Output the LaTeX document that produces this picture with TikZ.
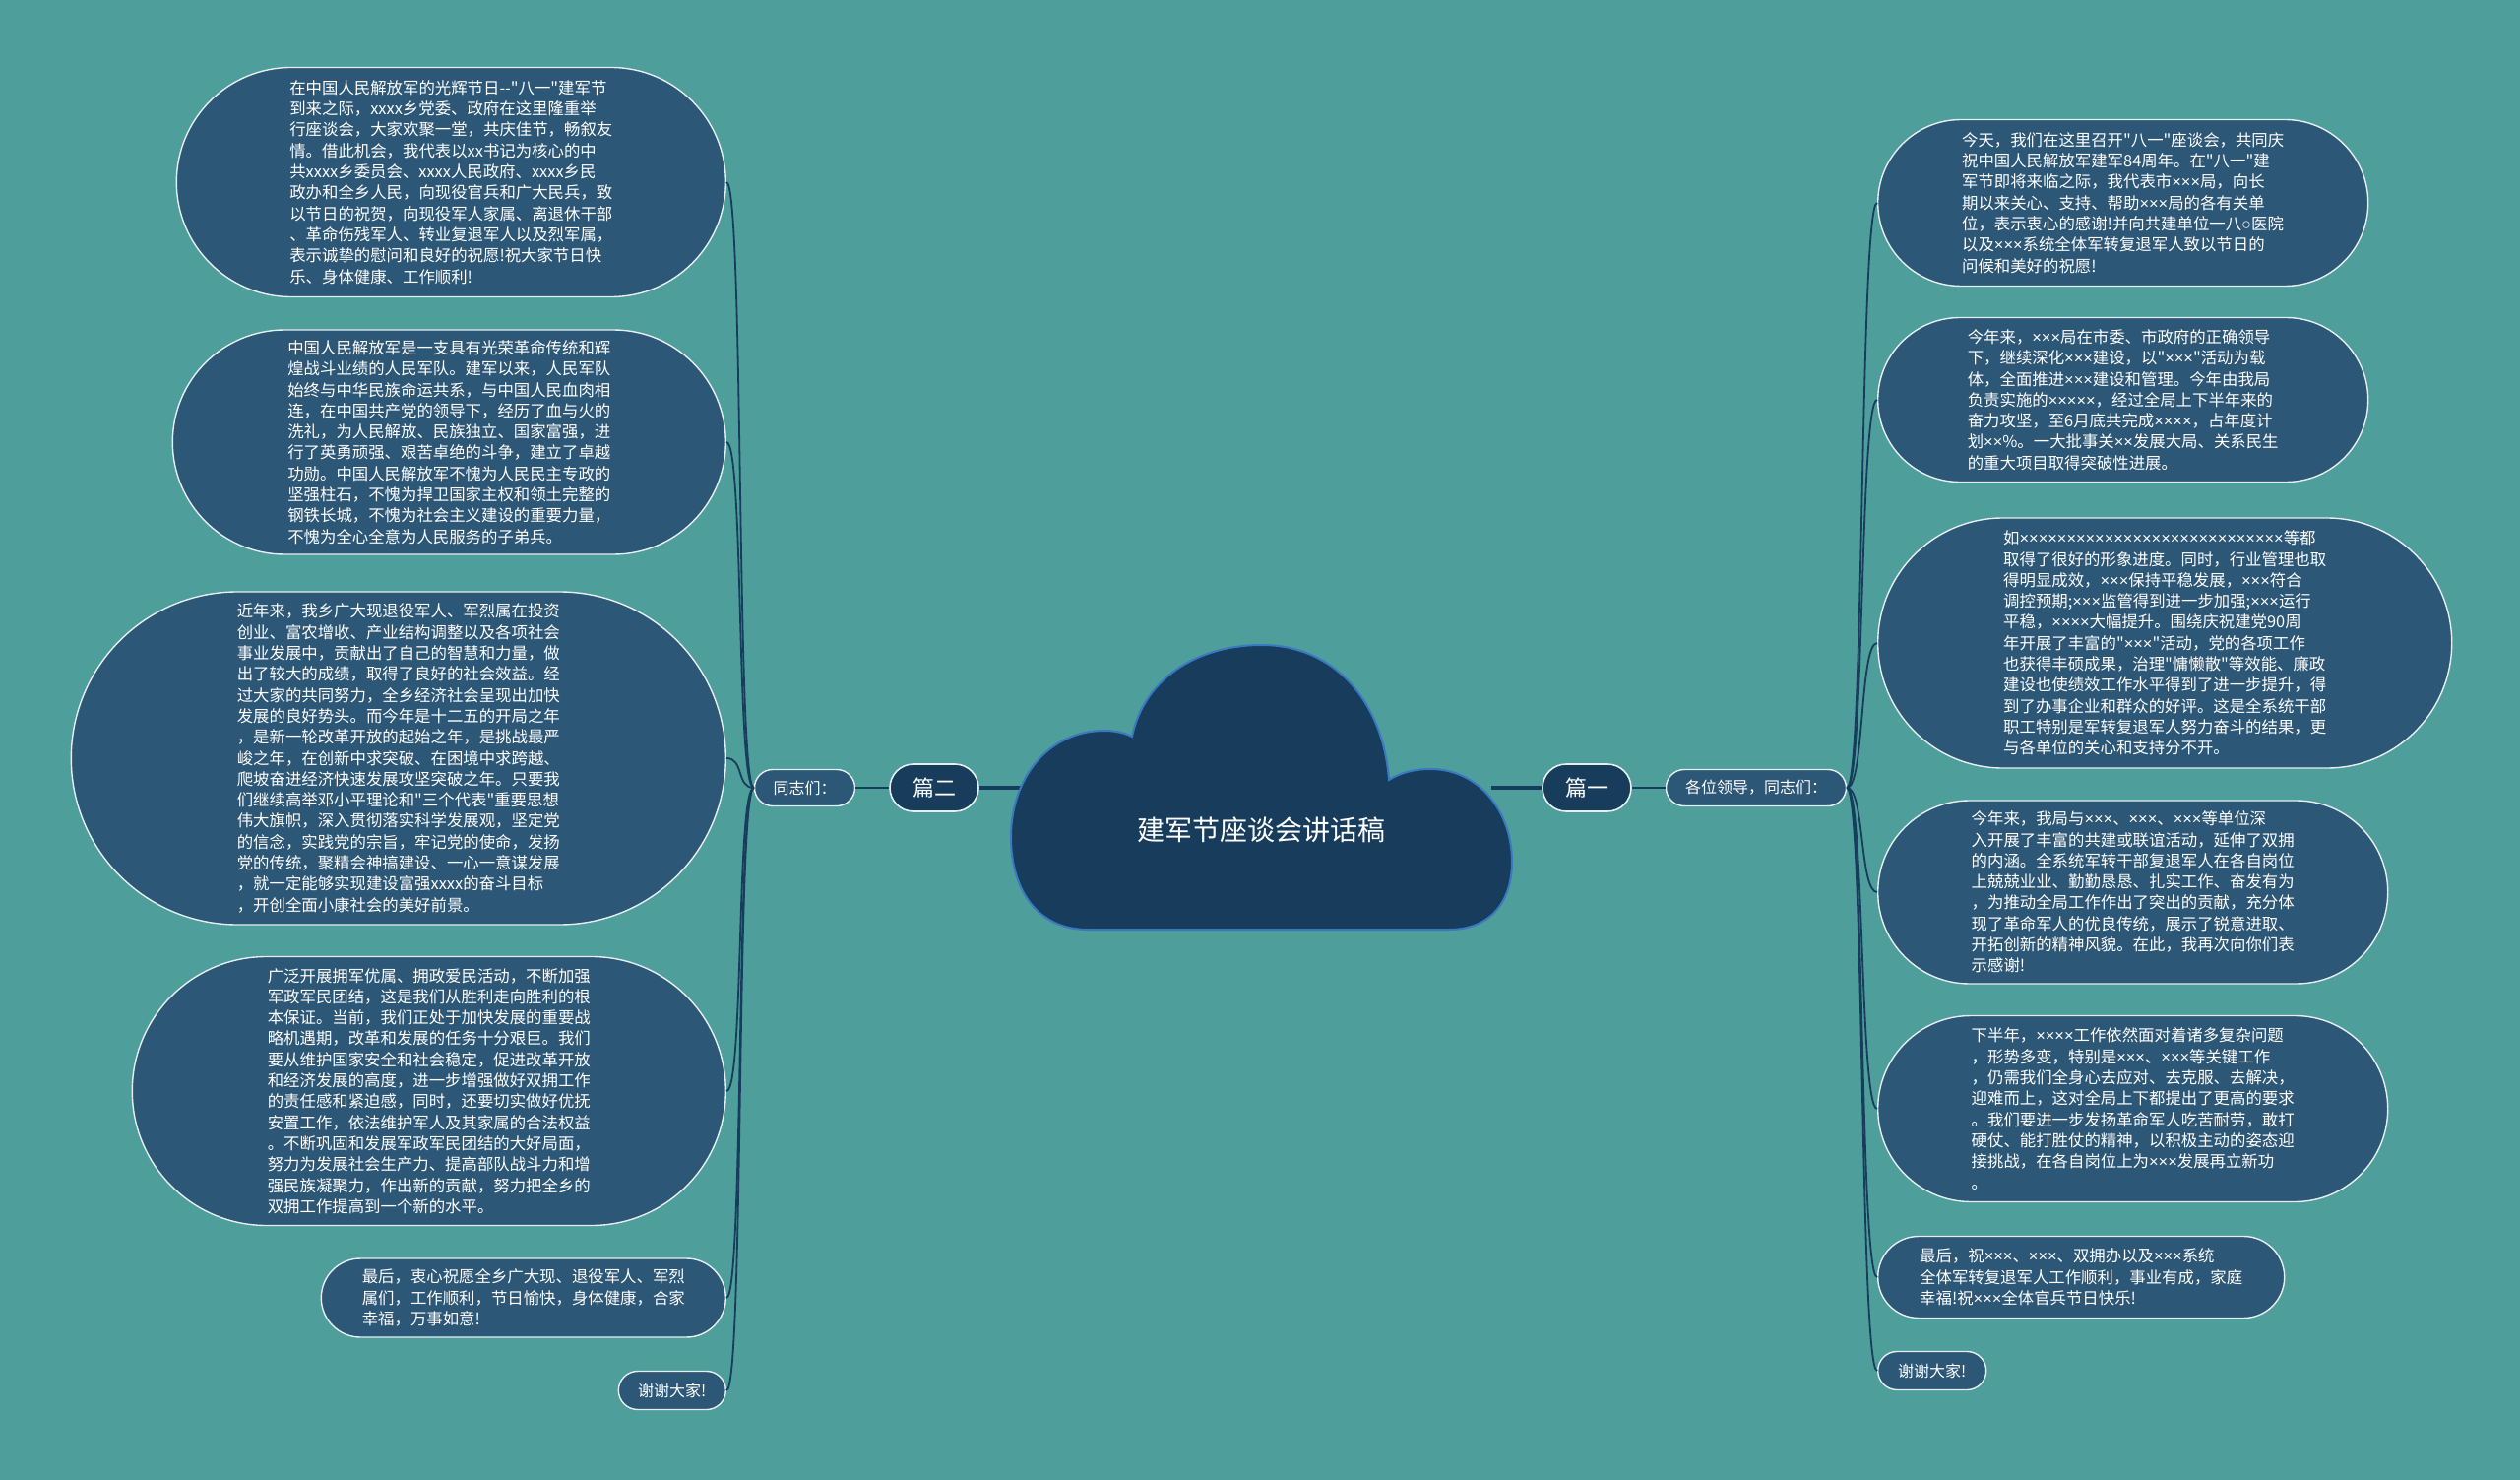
\documentclass[tikz,border=0pt]{standalone}
\usepackage{fontspec}
\setmainfont{Noto Sans CJK SC}[Ligatures=TeXOff]
\newfontfamily\latinf{Liberation Sans}
\begingroup\lccode`\~="D7 \lowercase{\endgroup\def~}{{\latinf\char"D7}}
\catcode"D7=13
\usetikzlibrary{positioning}
\definecolor{bgteal}{HTML}{4E9E9B}
\definecolor{bubblecol}{HTML}{2D5776}
\definecolor{navy}{HTML}{173C5C}
\definecolor{cloudedge}{HTML}{3A78C2}
\definecolor{rim}{HTML}{E6EEF2}

\begin{document}
\begin{tikzpicture}[x=1pt,y=-1pt,
  pill/.style 2 args={rectangle,minimum width=#1pt,minimum height=#2pt,rounded corners=#2*0.5pt},
  bubble/.style={draw=rim,line width=1.4pt,fill=bubblecol,text=white,
    align=left,inner sep=0pt,font=\fontsize{16.4}{21.3}\selectfont},
  lead/.style={bubble,font=\fontsize{16}{18}\selectfont},
  part/.style={draw=rim,line width=1.6pt,fill=navy,text=white,pill={90}{48},
    inner sep=0pt,font=\fontsize{22}{24}\selectfont},
  link/.style={draw=navy,line width=1.8pt},
  trunk/.style={draw=navy,line width=4pt}]
\fill[bgteal] (0,0) rectangle (2560,1503);
\useasboundingbox (0,0) rectangle (2560,1503);

\node[part] (p1) at (1612,800) {篇一};
\node[part] (p2) at (949,800) {篇二};
\node[lead,pill={183}{37},right=34pt of p1] (lead1) {各位领导，同志们：};
\node[lead,pill={102}{37},left=34pt of p2] (lead2) {同志们：};

\node[bubble,pill={558}{233},anchor=east] (l1) at (738,185) {在中国人民解放军的光辉节日-{}-"八一"建军节\\到来之际，xxxx乡党委、政府在这里隆重举\\行座谈会，大家欢聚一堂，共庆佳节，畅叙友\\情。借此机会，我代表以xx书记为核心的中\\共xxxx乡委员会、xxxx人民政府、xxxx乡民\\政办和全乡人民，向现役官兵和广大民兵，致\\以节日的祝贺，向现役军人家属、离退休干部\\、革命伤残军人、转业复退军人以及烈军属，\\表示诚挚的慰问和良好的祝愿!祝大家节日快\\乐、身体健康、工作顺利!};
\node[bubble,pill={562}{228},anchor=east] (l2) at (738,449) {中国人民解放军是一支具有光荣革命传统和辉\\煌战斗业绩的人民军队。建军以来，人民军队\\始终与中华民族命运共系，与中国人民血肉相\\连，在中国共产党的领导下，经历了血与火的\\洗礼，为人民解放、民族独立、国家富强，进\\行了英勇顽强、艰苦卓绝的斗争，建立了卓越\\功勋。中国人民解放军不愧为人民民主专政的\\坚强柱石，不愧为捍卫国家主权和领土完整的\\钢铁长城，不愧为社会主义建设的重要力量，\\不愧为全心全意为人民服务的子弟兵。};
\node[bubble,pill={665}{338},anchor=east] (l3) at (738,770) {近年来，我乡广大现退役军人、军烈属在投资\\创业、富农增收、产业结构调整以及各项社会\\事业发展中，贡献出了自己的智慧和力量，做\\出了较大的成绩，取得了良好的社会效益。经\\过大家的共同努力，全乡经济社会呈现出加快\\发展的良好势头。而今年是十二五的开局之年\\，是新一轮改革开放的起始之年，是挑战最严\\峻之年，在创新中求突破、在困境中求跨越、\\爬坡奋进经济快速发展攻坚突破之年。只要我\\们继续高举邓小平理论和"三个代表"重要思想\\伟大旗帜，深入贯彻落实科学发展观，坚定党\\的信念，实践党的宗旨，牢记党的使命，发扬\\党的传统，聚精会神搞建设、一心一意谋发展\\，就一定能够实现建设富强xxxx的奋斗目标\\，开创全面小康社会的美好前景。};
\node[bubble,pill={603}{273},anchor=east] (l4) at (738,1108) {广泛开展拥军优属、拥政爱民活动，不断加强\\军政军民团结，这是我们从胜利走向胜利的根\\本保证。当前，我们正处于加快发展的重要战\\略机遇期，改革和发展的任务十分艰巨。我们\\要从维护国家安全和社会稳定，促进改革开放\\和经济发展的高度，进一步增强做好双拥工作\\的责任感和紧迫感，同时，还要切实做好优抚\\安置工作，依法维护军人及其家属的合法权益\\。不断巩固和发展军政军民团结的大好局面，\\努力为发展社会生产力、提高部队战斗力和增\\强民族凝聚力，作出新的贡献，努力把全乡的\\双拥工作提高到一个新的水平。};
\node[bubble,pill={411}{80},anchor=east] (l5) at (738,1318) {最后，衷心祝愿全乡广大现、退役军人、军烈\\属们，工作顺利，节日愉快，身体健康，合家\\幸福，万事如意!};
\node[lead,pill={109}{39},anchor=east] (l6) at (738,1412) {谢谢大家!};

\node[bubble,pill={498}{169},anchor=west] (r1) at (1907,206) {今天，我们在这里召开"八一"座谈会，共同庆\\祝中国人民解放军建军84周年。在"八一"建\\军节即将来临之际，我代表市×××局，向长\\期以来关心、支持、帮助×××局的各有关单\\位，表示衷心的感谢!并向共建单位一八{\latinf ○}医院\\以及×××系统全体军转复退军人致以节日的\\问候和美好的祝愿!};
\node[bubble,pill={498}{167},anchor=west] (r2) at (1907,406) {今年来，×××局在市委、市政府的正确领导\\下，继续深化×××建设，以"×××"活动为载\\体，全面推进×××建设和管理。今年由我局\\负责实施的×××××，经过全局上下半年来的\\奋力攻坚，至6月底共完成××××，占年度计\\划××\%。一大批事关××发展大局、关系民生\\的重大项目取得突破性进展。};
\node[bubble,pill={583}{254},anchor=west] (r3) at (1907,653) {如××××××××××××××××××××××××××××等都\\取得了很好的形象进度。同时，行业管理也取\\得明显成效，×××保持平稳发展，×××符合\\调控预期;×××监管得到进一步加强;×××运行\\平稳，××××大幅提升。围绕庆祝建党90周\\年开展了丰富的"×××"活动，党的各项工作\\也获得丰硕成果，治理"慵懒散"等效能、廉政\\建设也使绩效工作水平得到了进一步提升，得\\到了办事企业和群众的好评。这是全系统干部\\职工特别是军转复退军人努力奋斗的结果，更\\与各单位的关心和支持分不开。};
\node[bubble,pill={518}{186},anchor=west] (r4) at (1907,906) {今年来，我局与×××、×××、×××等单位深\\入开展了丰富的共建或联谊活动，延伸了双拥\\的内涵。全系统军转干部复退军人在各自岗位\\上兢兢业业、勤勤恳恳、扎实工作、奋发有为\\，为推动全局工作作出了突出的贡献，充分体\\现了革命军人的优良传统，展示了锐意进取、\\开拓创新的精神风貌。在此，我再次向你们表\\示感谢!};
\node[bubble,pill={518}{189},anchor=west] (r5) at (1907,1126) {下半年，××××工作依然面对着诸多复杂问题\\，形势多变，特别是×××、×××等关键工作\\，仍需我们全身心去应对、去克服、去解决，\\迎难而上，这对全局上下都提出了更高的要求\\。我们要进一步发扬革命军人吃苦耐劳，敢打\\硬仗、能打胜仗的精神，以积极主动的姿态迎\\接挑战，在各自岗位上为×××发展再立新功\\。};
\node[bubble,pill={413}{83},anchor=west] (r6) at (1907,1297) {最后，祝×××、×××、双拥办以及×××系统\\全体军转复退军人工作顺利，事业有成，家庭\\幸福!祝×××全体官兵节日快乐!};
\node[lead,pill={110}{39},anchor=west] (r7) at (1907,1392) {谢谢大家!};

\foreach \n in {r1,r2,r3,r4,r5,r6,r7}
  \draw[link] (lead1.east) .. controls +(18,0) and +(-18,0) .. (\n.west);
\foreach \n in {l1,l2,l3,l4,l5,l6}
  \draw[link] (lead2.west) .. controls +(-18,0) and +(18,0) .. (\n.east);

\coordinate (cloudR) at (1515,800);
\coordinate (cloudL) at (1050,800);
\draw[trunk] (cloudR) -- (p1.west);
\draw[trunk] (cloudL) -- (p2.east);
\draw[draw=navy,line width=2.6pt] (p1.east) -- (lead1.west);
\draw[draw=navy,line width=2.6pt] (p2.west) -- (lead2.east);

\filldraw[fill=navy,draw=cloudedge,line width=2pt]
  (1105,944) .. controls (1055,944) and (1027,905) .. (1027,850)
  .. controls (1027,790) and (1065,742) .. (1122,742)
  .. controls (1132,742) and (1142,744) .. (1150,748)
  .. controls (1162,690) and (1215,655) .. (1282,655)
  .. controls (1355,655) and (1405,712) .. (1411,792)
  .. controls (1424,784) and (1438,781) .. (1453,781)
  .. controls (1503,781) and (1536,825) .. (1536,875)
  .. controls (1536,918) and (1512,944) .. (1472,944)
  -- cycle;
\node[text=white,font=\fontsize{28}{32}\selectfont] (title) at (1281,843) {建军节座谈会讲话稿};
\end{tikzpicture}
\end{document}
